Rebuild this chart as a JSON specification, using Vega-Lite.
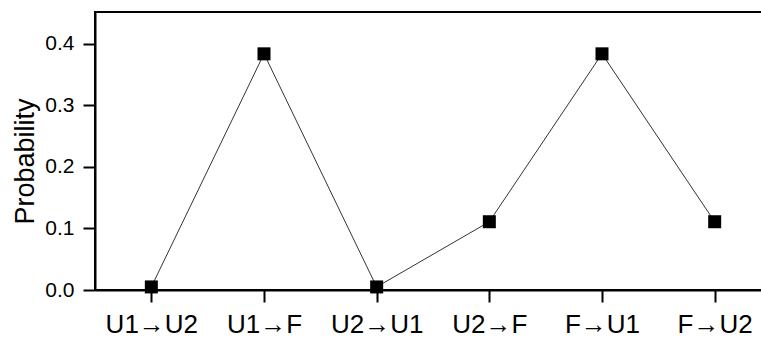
{
  "$schema": "https://vega.github.io/schema/vega-lite/v6.json",
  "autosize": "none",
  "width": 676,
  "height": 278,
  "padding": {"left": 95, "top": 12, "right": 0, "bottom": 48},
  "background": "white",
  "config": {
    "view": {"stroke": "black", "strokeWidth": 2},
    "font": "Liberation Sans"
  },
  "data": {
    "values": [
      {"transition": "U1→U2", "p": 0.005},
      {"transition": "U1→F", "p": 0.384},
      {"transition": "U2→U1", "p": 0.005},
      {"transition": "U2→F", "p": 0.111},
      {"transition": "F→U1", "p": 0.384},
      {"transition": "F→U2", "p": 0.111}
    ]
  },
  "encoding": {
    "x": {
      "field": "transition",
      "type": "nominal",
      "sort": null,
      "scale": {"type": "point", "padding": 0.5},
      "axis": {
        "title": null,
        "labelAngle": 0,
        "labelFontSize": 26,
        "labelColor": "black",
        "labelBaseline": "alphabetic",
        "labelPadding": 30,
        "tickSize": 12,
        "tickWidth": 2,
        "tickColor": "black",
        "domainColor": "black",
        "domainWidth": 2,
        "grid": false
      }
    },
    "y": {
      "field": "p",
      "type": "quantitative",
      "scale": {"domain": [0, 0.452], "nice": false},
      "axis": {
        "title": "Probability",
        "titleFontSize": 27,
        "titleFontWeight": "normal",
        "titleColor": "black",
        "titleBaseline": "alphabetic",
        "titleX": -62,
        "titleY": 149,
        "titleAngle": -90,
        "titleAlign": "center",
        "values": [0, 0.1, 0.2, 0.3, 0.4],
        "format": ".1f",
        "labelFontSize": 21,
        "labelColor": "black",
        "labelPadding": 9,
        "tickSize": 12,
        "tickWidth": 2,
        "tickColor": "black",
        "domainColor": "black",
        "domainWidth": 2,
        "grid": false
      }
    }
  },
  "layer": [
    {"mark": {"type": "line", "color": "#333333", "strokeWidth": 1}},
    {"mark": {"type": "point", "shape": "square", "filled": true, "color": "black", "opacity": 1, "size": 169}}
  ]
}
